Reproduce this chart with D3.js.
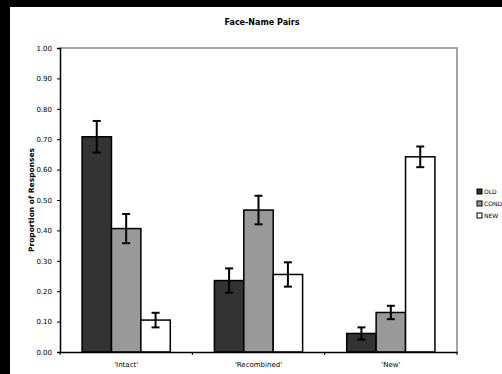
<!DOCTYPE html>
<html>
<head>
<meta charset="utf-8">
<script src="https://cdn.jsdelivr.net/npm/d3@7"></script>
<style>
  body { margin: 0; background: #000; }
  svg { display: block; }
  text { font-family: "DejaVu Sans", sans-serif; }
</style>
</head>
<body>
<div id="chart"></div>
<script>
var categories = ["'Intact'", "'Recombined'", "'New'"];
var series = ["OLD", "COND", "NEW"];
var colors = ["#333333", "#999999", "#ffffff"];
// proportion of responses, per series, per category
var old_vals = [0.708, 0.235, 0.061];
var cond_vals = [0.406, 0.467, 0.130];
var new_vals = [0.105, 0.255, 0.642];
// error bar half-widths
var old_err = [0.052, 0.040, 0.020];
var cond_err = [0.048, 0.047, 0.022];
var new_err = [0.024, 0.040, 0.034];
var y_ticks = [0, 0.1, 0.2, 0.3, 0.4, 0.5, 0.6, 0.7, 0.8, 0.9, 1.0];

var values = [old_vals, cond_vals, new_vals],
    errors = [old_err, cond_err, new_err];

var width = 502, height = 374;
var plot = {left: 60, top: 48, right: 457, bottom: 352};

var svg = d3.select('#chart').append('svg')
    .attr('width', width)
    .attr('height', height);

svg.append('rect')
  .attr('width', width).attr('height', height)
  .attr('fill', '#000');

svg.append('rect')
  .attr('x', 10).attr('y', 7)
  .attr('width', width - 10).attr('height', height - 7)
  .attr('fill', '#fff');

var x = d3.scaleBand()
    .domain(categories)
    .range([plot.left, plot.right]);

var x_inner = d3.scaleBand()
    .domain(series)
    .range([0, x.bandwidth()])
    .paddingOuter(0.75)
    .paddingInner(0);

var y = d3.scaleLinear()
    .domain([0, 1])
    .range([plot.bottom, plot.top]);

// plot frame (top/right grey)
svg.append('path')
  .attr('d', 'M' + plot.left + ',' + plot.top + 'H' + plot.right + 'V' + plot.bottom)
  .attr('fill', 'none')
  .attr('stroke', '#888')
  .attr('stroke-width', 1.5);

var bars_data = [];
series.forEach(function(s, si) {
  categories.forEach(function(c, ci) {
    bars_data.push({s: s, si: si, c: c, v: values[si][ci], e: errors[si][ci]});
  });
});

svg.selectAll('.bar')
  .data(bars_data)
  .enter().append('rect')
  .attr('class', 'bar')
  .attr('x', function(d) { return x(d.c) + x_inner(d.s); })
  .attr('y', function(d) { return y(d.v); })
  .attr('width', x_inner.bandwidth())
  .attr('height', function(d) { return y(0) - y(d.v); })
  .attr('fill', function(d) { return colors[d.si]; })
  .attr('stroke', '#000')
  .attr('stroke-width', 1.5);

var g_err = svg.selectAll('.err')
  .data(bars_data)
  .enter().append('g')
  .attr('class', 'err')
  .attr('transform', function(d) {
    return 'translate(' + (x(d.c) + x_inner(d.s) + x_inner.bandwidth() / 2) + ',0)';
  });

g_err.append('line')
  .attr('y1', function(d) { return y(d.v + d.e); })
  .attr('y2', function(d) { return y(d.v - d.e); })
  .attr('stroke', '#000').attr('stroke-width', 2);

g_err.append('line')
  .attr('x1', -4).attr('x2', 4)
  .attr('y1', function(d) { return y(d.v + d.e); })
  .attr('y2', function(d) { return y(d.v + d.e); })
  .attr('stroke', '#000').attr('stroke-width', 2);

g_err.append('line')
  .attr('x1', -4).attr('x2', 4)
  .attr('y1', function(d) { return y(d.v - d.e); })
  .attr('y2', function(d) { return y(d.v - d.e); })
  .attr('stroke', '#000').attr('stroke-width', 2);

// y axis
var y_axis = svg.append('g')
  .attr('transform', 'translate(' + plot.left + ',0)')
  .call(d3.axisLeft(y).tickValues(y_ticks).tickFormat(d3.format('.2f')).tickSize(3).tickPadding(5));
y_axis.select('.domain').attr('stroke-width', 1.5);
y_axis.selectAll('text').attr('font-size', 7).attr('fill', '#000');

// x axis with ticks on group boundaries
var x_axis = svg.append('g')
  .attr('transform', 'translate(0,' + plot.bottom + ')')
  .call(d3.axisBottom(x).tickSize(0).tickPadding(10));
x_axis.select('.domain').attr('stroke-width', 1.5);
x_axis.selectAll('text').attr('font-size', 7).attr('fill', '#000');

x_axis.selectAll('.bound')
  .data(categories.concat(['end']))
  .enter().append('line')
  .attr('x1', function(d, i) { return i < categories.length ? x(d) : plot.right; })
  .attr('x2', function(d, i) { return i < categories.length ? x(d) : plot.right; })
  .attr('y1', 0).attr('y2', 3)
  .attr('stroke', '#000');

svg.append('text')
  .attr('x', 262).attr('y', 25)
  .attr('text-anchor', 'middle')
  .attr('font-size', 8).attr('font-weight', 'bold')
  .text('Face-Name Pairs');

svg.append('text')
  .attr('transform', 'translate(34,' + ((plot.top + plot.bottom) / 2) + ') rotate(-90)')
  .attr('text-anchor', 'middle')
  .attr('font-size', 7.5).attr('font-weight', 'bold')
  .text('Proportion of Responses');

var legend = svg.selectAll('.legend')
  .data(series)
  .enter().append('g')
  .attr('class', 'legend')
  .attr('transform', function(d, i) { return 'translate(477,' + (189 + i * 12) + ')'; });

legend.append('rect')
  .attr('width', 5).attr('height', 5)
  .attr('fill', function(d, i) { return colors[i]; })
  .attr('stroke', '#000').attr('stroke-width', 1);

legend.append('text')
  .attr('x', 7).attr('y', 5)
  .attr('font-size', 6)
  .text(function(d) { return d; });
</script>
</body>
</html>
